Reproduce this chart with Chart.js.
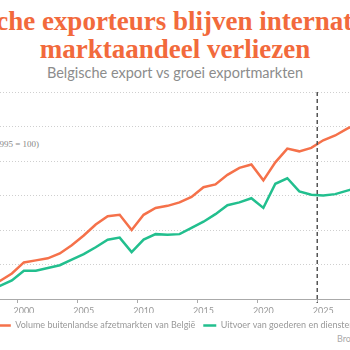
<!DOCTYPE html>
<html>
<head>
<meta charset="utf-8">
<script src="https://cdn.jsdelivr.net/npm/chart.js@4.4.1/dist/chart.umd.min.js"></script>
<style>
    html, body { margin: 0; padding: 0; background: #fff; overflow: hidden; }
    #wrap { position: absolute; left: -100px; top: 0; width: 550px; height: 350px; }
    h1 {
        position: absolute; left: 0; top: 7px; width: 550px; margin: 0;
        font-family: "Liberation Serif", serif; font-weight: bold; font-size: 27px;
        line-height: 28px; color: #f26a3c; text-align: center;
    }
    .sub {
        position: absolute; left: 0; top: 64px; width: 550px;
        font-family: Lato, sans-serif; font-size: 14.5px; color: #8c8c8c; text-align: center;
    }
    .unit {
        position: absolute; left: 0; top: 139px; width: 139px; text-align: right;
        font-family: "Liberation Serif", serif; font-size: 9px; color: #888;
    }
    .source {
        position: absolute; left: 437px; top: 333px;
        font-family: Lato, sans-serif; font-size: 9px; color: #aaa;
    }
    #chartBox { position: absolute; left: 55px; top: 85px; width: 485px; height: 255px; }
</style>
</head>
<body>
<div id="wrap">
    <h1>Belgische exporteurs blijven internationaal<br>marktaandeel verliezen</h1>
    <div class="sub">Belgische export vs groei exportmarkten</div>
    <div class="unit">Index (1995 = 100)</div>
    <div class="source">Bron: Federaal Planbureau</div>
    <div id="chartBox"><canvas id="exportChart"></canvas></div>
</div>

<script>
// yearly values, plotted mid-year
const years = [1995, 1996, 1997, 1998, 1999, 2000, 2001, 2002, 2003, 2004, 2005, 2006, 2007,
               2008, 2009, 2010, 2011, 2012, 2013, 2014, 2015, 2016, 2017, 2018, 2019, 2020,
               2021, 2022, 2023, 2024, 2025, 2026, 2027, 2028];

const marketVolume = [100, 106, 115, 126, 137, 153, 156, 159, 166, 178, 192, 208, 220,
                      222, 200, 222, 232, 235, 240, 248, 262, 266, 280, 290, 295, 272,
                      298, 318, 314, 319, 330, 337, 347, 355];

const belgianExport = [100, 105, 111, 119, 127, 141, 141, 145, 149, 157, 165, 175, 186,
                       189, 168, 186, 194, 193, 194, 203, 212, 223, 236, 240, 246, 232,
                       267, 275, 256, 251, 250, 252, 257, 262];

const seriesLabels = ["Volume buitenlandse afzetmarkten van België",
                      "Uitvoer van goederen en diensten van België"];

const forecastYear = 2025;

function toPoints(values){
    return values.map((v, i) => ({ x: years[i] + 0.5, y: v }));
}

// dashed line marking start of forecast
const forecastLine = {
    id: "forecastLine",
    afterDatasetsDraw(chart){
        const x = chart.scales.x.getPixelForValue(forecastYear);
        const { top, bottom } = chart.chartArea;
        const ctx = chart.ctx;
        ctx.save();
        ctx.strokeStyle = "#555";
        ctx.lineWidth = 1.5;
        ctx.setLineDash([4, 3]);
        ctx.beginPath();
        ctx.moveTo(x, top);
        ctx.lineTo(x, bottom + 4);
        ctx.stroke();
        ctx.restore();
    }
};

new Chart(document.getElementById("exportChart"), {
    type: "line",
    data: {
        datasets: [{
            label: seriesLabels[0],
            data: toPoints(marketVolume),
            borderColor: "#f5714a",
            backgroundColor: "#f5714a",
            borderWidth: 2.5,
            pointRadius: 0,
            tension: 0
        }, {
            label: seriesLabels[1],
            data: toPoints(belgianExport),
            borderColor: "#22bf8e",
            backgroundColor: "#22bf8e",
            borderWidth: 2.5,
            pointRadius: 0,
            tension: 0
        }]
    },
    options: {
        responsive: true,
        maintainAspectRatio: false,
        animation: false,
        layout: {
            padding: { left: 0, right: 0, top: 7, bottom: 0 }
        },
        plugins: {
            legend: {
                position: "bottom",
                align: "center",
                labels: {
                    usePointStyle: true,
                    pointStyle: "line",
                    pointStyleWidth: 13,
                    color: "#999",
                    font: { family: "Lato", size: 9 },
                    padding: 8
                }
            },
            tooltip: { enabled: false }
        },
        scales: {
            x: {
                type: "linear",
                min: 1995,
                max: 2035,
                afterFit(scale){ scale.height = 14; },
                grid: {
                    drawOnChartArea: false,
                    drawTicks: true,
                    tickLength: 4,
                    color: "#aaa"
                },
                border: { display: true, color: "#aaa", width: 1 },
                ticks: {
                    stepSize: 5,
                    labelOffset: 6,
                    color: "#999",
                    font: { family: "Lato", size: 9 },
                    callback: v => (v % 5 === 0 && v >= 2000 && v <= 2025 ? String(v) : "")
                }
            },
            y: {
                min: 100,
                max: 400,
                afterFit(scale){ scale.width = 0; },
                grid: { color: "#cfcfcf", drawTicks: false },
                border: { display: false, dash: [1, 2] },
                ticks: { display: false, stepSize: 50 }
            }
        }
    },
    plugins: [forecastLine]
});
</script>
</body>
</html>
